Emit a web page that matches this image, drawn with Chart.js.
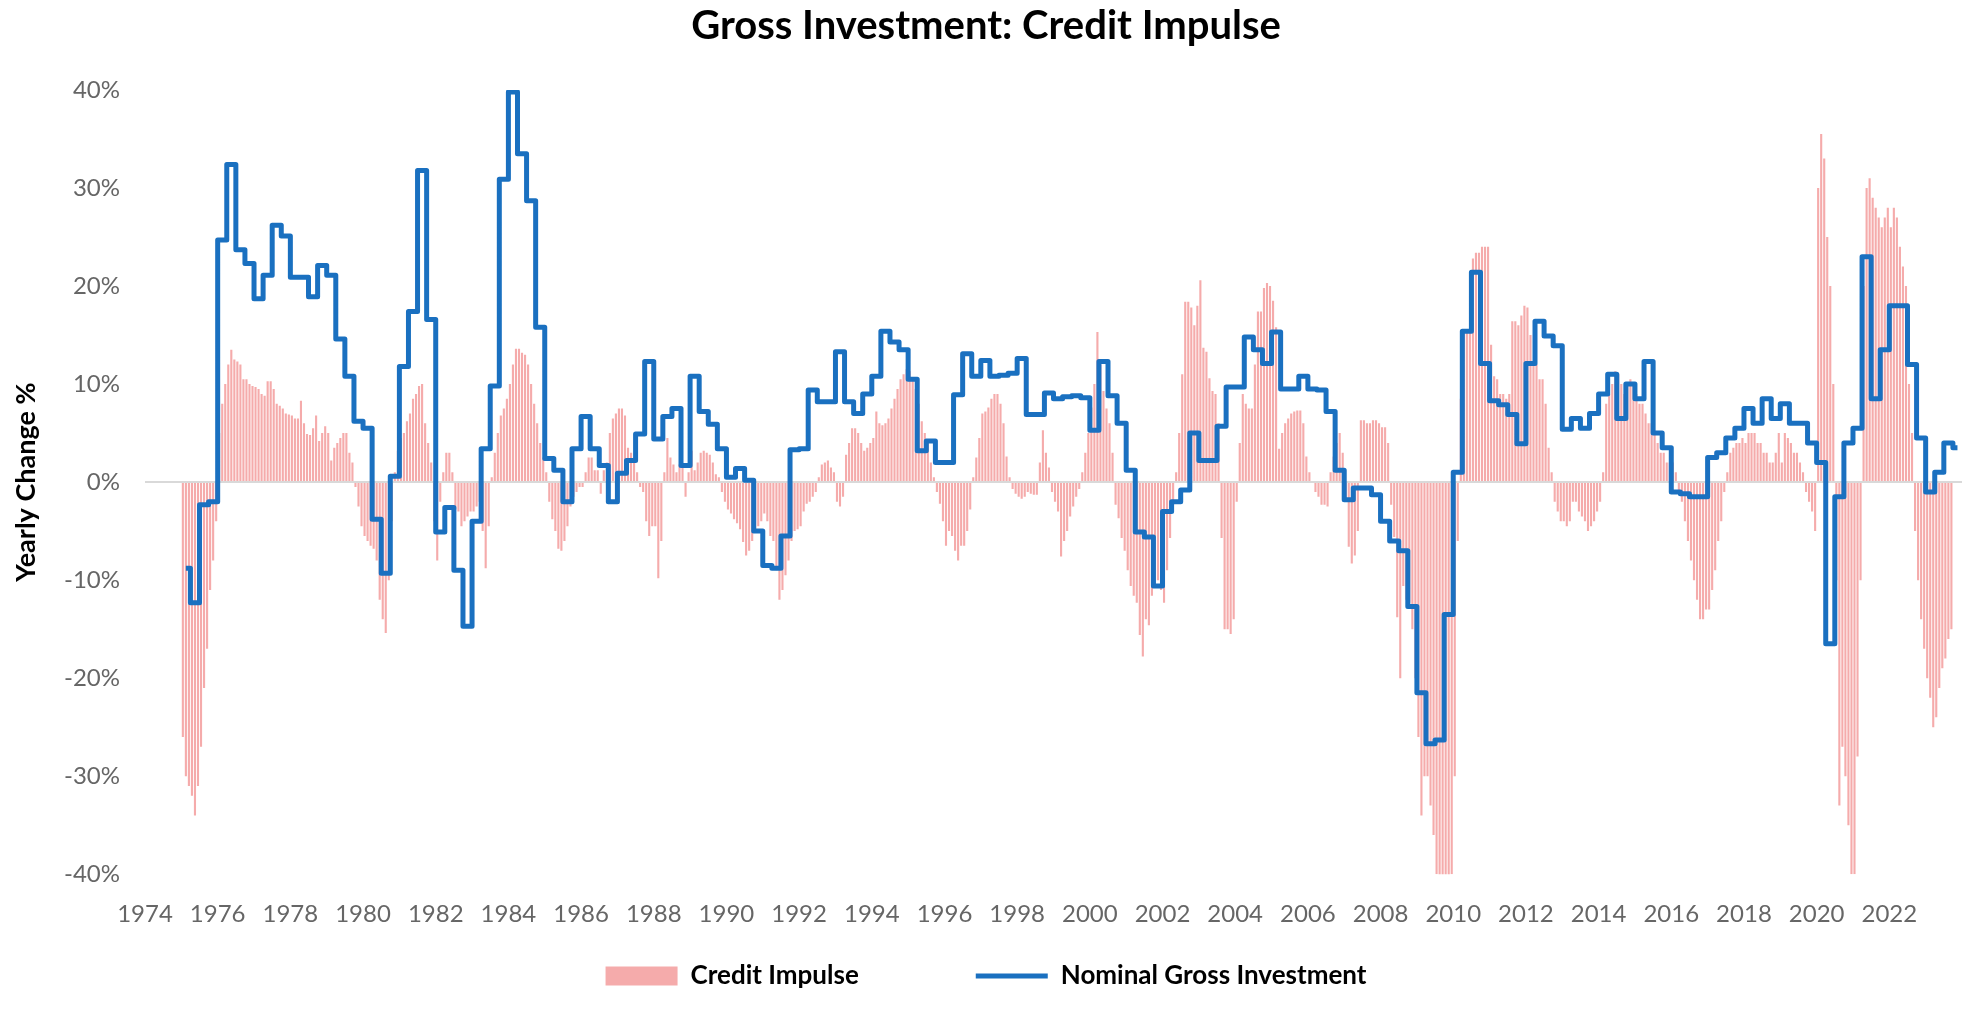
<!DOCTYPE html>
<html lang="en">
<head>
  <meta charset="UTF-8" />
  <title>Gross Investment: Credit Impulse</title>
  <script src="https://cdn.jsdelivr.net/npm/chart.js"></script>
  <style>
    html, body { margin: 0; padding: 0; background: #fff; }
    #grafico { display: block; }
  </style>
</head>
<body>
  <canvas id="grafico" width="1975" height="1011"></canvas>

  <script>
    // Credit impulse, yearly change %, one value per month from Jan 1975
    const creditImpulse = [
      -26, -30, -31, -32, -34, -31, -27, -21, -17, -11, -8, -4,          // 1975
      5, 8, 10, 12, 13.5, 12.5, 12.3, 12, 10.5, 10.5, 10, 9.8,            // 1976
      9.7, 9.5, 9, 8.8, 10.3, 10.3, 9.5, 8, 7.8, 7.5, 7, 6.9,             // 1977
      6.8, 6.5, 6.5, 8.3, 6, 4.9, 4.8, 5.5, 6.8, 4.2, 5, 5.7,             // 1978
      5, 2.2, 3.5, 4, 4.5, 5, 5, 3, 2, -0.5, -2.5, -4.5,                  // 1979
      -5.5, -6, -6.5, -6.8, -8, -12, -14, -15.4, -10, -4, 1, 3.2,         // 1980
      4.5, 5, 6.2, 7, 8.5, 9, 9.8, 10, 6, 4, 2, -4,                       // 1981
      -8, -2, 1, 3, 3, 1, -2.8, -3, -4.5, -4, -3.5, -3,                   // 1982
      -3, -2.5, -2, -5, -8.8, -4.5, 0.5, 3, 5, 6.8, 7.5, 8.5,             // 1983
      10, 12, 13.6, 13.6, 13.2, 13, 12, 10, 8, 6, 4, 2.5,                 // 1984
      1, -2, -3.8, -5, -6.8, -7, -6, -4.5, -2.5, -1.5, -1, -0.5,          // 1985
      -0.5, 1, 2.5, 2.5, 1.2, 1.2, -1.2, 1.2, 2, 5, 6.5, 7,               // 1986
      7.5, 7.5, 6.8, 3.5, 3, 2.5, 1, -0.5, -1, -4, -5.5, -4.5,            // 1987
      -4.5, -9.8, -6, 1, 4.5, 2.5, 1.8, 1, 1.8, 1.8, -1.5, 1,             // 1988
      3.2, 1.2, 2, 3, 3.2, 3, 2.8, 2, 0.8, 0.5, -1, -2,                   // 1989
      -2.8, -3.2, -3.8, -4.2, -4.8, -6.1, -7.5, -7, -6, -5, -4.5, -4,     // 1990
      -3.2, -4, -5.5, -6, -9, -12, -11, -9.5, -8, -6, -5, -4.8,           // 1991
      -4.5, -3, -2.2, -2, -1.5, -1, 0.5, 1.8, 2, 2.2, 1.5, 1,             // 1992
      -2, -2.5, -1.5, 2.8, 4, 5.5, 5.5, 5, 4, 3.2, 3.5, 4,                // 1993
      4.5, 7.2, 6, 5.8, 6, 6.5, 7.5, 8.5, 9.5, 10.5, 11, 11.5,            // 1994
      11.3, 10.5, 9.5, 8, 6.2, 5, 4, 2, 0.5, -1, -2.2, -4,                // 1995
      -6.5, -5, -5.5, -7, -8, -6.5, -6.5, -5, -2.8, 0.5, 2.5, 4.5,        // 1996
      7, 7.2, 7.6, 8.5, 9, 9, 8, 6, 2.6, 0.5, -0.7, -1.2,                 // 1997
      -1.5, -1.7, -1.5, -1, -1.2, -1.3, -1.3, 2, 5.3, 3, 1.5, -1,         // 1998
      -2, -3, -7.6, -6, -5, -3.5, -2.5, -1.5, -0.7, 1, 3, 5,              // 1999
      7.6, 10, 15.3, 12, 9.3, 7.5, 6, 3, -2.3, -3.7, -5.7, -7,            // 2000
      -9, -10.6, -11.6, -12.3, -15.6, -17.8, -14, -14.6, -11.6, -10.5, -10, -11, // 2001
      -12.3, -9, -5.7, -2.3, 1, 5, 11, 18.4, 18.4, 17.8, 16, 18,          // 2002
      20.6, 13.7, 13.3, 10.6, 9.3, 9, 6, -5.7, -15, -15, -15.5, -14,      // 2003
      -2, 4, 9, 8, 7.5, 7.5, 12, 17.4, 17.4, 19.8, 20.3, 20,              // 2004
      18.5, 15.8, 3.4, 5, 6, 6.5, 7, 7.2, 7.3, 7.3, 6, 2.6,               // 2005
      1, 0, -1, -1.5, -2.3, -2.3, -2.5, 1, 2.6, 4, 5, 3,                  // 2006
      -2, -6.6, -8.3, -7.5, -5, 6.3, 6.3, 6, 6, 6.3, 6.3, 6,              // 2007
      5.6, 5.6, 4, -2.3, -5.6, -13.8, -20, -10.6, -12, -12.3, -15, -20,   // 2008
      -26, -34, -30, -30, -33, -36, -40, -41, -41, -41, -41, -40,         // 2009
      -30, -6, 8.5, 15.4, 15.4, 15.4, 22.8, 23.4, 23.4, 24, 24, 24,       // 2010
      14, 10.8, 10.5, 9, 9, 8.5, 9, 16.4, 16.4, 16, 17, 18,               // 2011
      17.8, 15, 12, 12, 10.5, 10.5, 8, 3.5, 1, -2, -3, -4,                // 2012
      -4, -4.5, -4, -2, -2, -3, -3.5, -4, -5, -4.5, -4, -3,               // 2013
      -2, 1, 8, 9, 10, 11.3, 11, 10, 9, 10, 10.5, 10,                     // 2014
      9, 8, 8, 7, 6, 6, 5, 4, 3, 3, 2, 2,                                 // 2015
      2, 1, -1, -2, -4, -6, -8, -10, -12, -14, -14, -13,                  // 2016
      -13, -11, -9, -6, -4, -1, 1, 3, 3.5, 4, 4, 4.5,                     // 2017
      4, 5, 5, 5, 4, 4, 3, 3, 2, 2, 3, 5,                                 // 2018
      2, 5, 4.5, 4, 3, 3, 2, 1, -1, -2, -3, -5,                           // 2019
      30, 35.5, 33, 25, 20, 10, -10, -33, -27, -30, -35, -40,             // 2020
      -40, -28, -10, 20, 30, 31, 29, 28, 27, 26, 27, 28,                  // 2021
      26, 28, 27, 24, 22, 20, 10, 5, -5, -10, -14, -17,                   // 2022
      -20, -22, -25, -24, -21, -19, -18, -16, -15                         // 2023
    ];

    // Nominal gross investment, yearly change %, one value per quarter from 1975 Q1
    const grossInvestment = [
      -8.8, -12.3, -2.3, -2.0,     // 1975
      24.7, 32.4, 23.7, 22.3,      // 1976
      18.7, 21.1, 26.2, 25.1,      // 1977
      20.9, 20.9, 18.9, 22.1,      // 1978
      21.1, 14.6, 10.8, 6.2,       // 1979
      5.5, -3.8, -9.3, 0.6,        // 1980
      11.8, 17.4, 31.8, 16.6,      // 1981
      -5.1, -2.6, -9.0, -14.7,     // 1982
      -4.0, 3.4, 9.8, 30.9,        // 1983
      39.8, 33.5, 28.7, 15.8,      // 1984
      2.4, 1.2, -2.0, 3.4,         // 1985
      6.7, 3.4, 1.7, -2.0,         // 1986
      0.9, 2.2, 4.9, 12.3,         // 1987
      4.4, 6.7, 7.5, 1.7,          // 1988
      10.8, 7.2, 5.9, 3.4,         // 1989
      0.5, 1.4, 0.2, -5.0,         // 1990
      -8.5, -8.8, -5.5, 3.3,       // 1991
      3.4, 9.4, 8.2, 8.2,          // 1992
      13.3, 8.2, 7.0, 9.0,         // 1993
      10.8, 15.4, 14.3, 13.5,      // 1994
      10.5, 3.2, 4.2, 2.0,         // 1995
      2.0, 8.9, 13.1, 10.8,        // 1996
      12.4, 10.8, 10.9, 11.1,      // 1997
      12.6, 6.9, 6.9, 9.1,         // 1998
      8.5, 8.7, 8.8, 8.6,          // 1999
      5.3, 12.3, 8.8, 6.0,         // 2000
      1.2, -5.1, -5.6, -10.6,      // 2001
      -3.0, -2.0, -0.8, 5.0,       // 2002
      2.2, 2.2, 5.7, 9.7,          // 2003
      9.7, 14.8, 13.5, 12.1,       // 2004
      15.3, 9.5, 9.5, 10.8,        // 2005
      9.5, 9.4, 7.2, 1.2,          // 2006
      -1.8, -0.6, -0.6, -1.3,      // 2007
      -4.0, -6.0, -7.0, -12.7,     // 2008
      -21.5, -26.7, -26.3, -13.5,  // 2009
      1.0, 15.4, 21.4, 12.1,       // 2010
      8.3, 7.9, 6.9, 3.9,          // 2011
      12.1, 16.4, 14.9, 13.9,      // 2012
      5.4, 6.5, 5.5, 7.0,          // 2013
      9.0, 11.0, 6.5, 10.0,        // 2014
      8.5, 12.3, 5.0, 3.5,         // 2015
      -1.0, -1.2, -1.5, -1.5,      // 2016
      2.5, 3.0, 4.5, 5.5,          // 2017
      7.5, 6.0, 8.5, 6.5,          // 2018
      8.0, 6.0, 6.0, 4.0,          // 2019
      2.0, -16.5, -1.5, 4.0,       // 2020
      5.5, 23.0, 8.5, 13.5,        // 2021
      18.0, 18.0, 12.0, 4.5,       // 2022
      -1.0, 1.0, 4.0, 3.5          // 2023
    ];

    const firstYear = 1975;
    const yearLabels = [1974, 1976, 1978, 1980, 1982, 1984, 1986, 1988, 1990, 1992, 1994, 1996,
                        1998, 2000, 2002, 2004, 2006, 2008, 2010, 2012, 2014, 2016, 2018, 2020, 2022];
    const percentTicks = [-40, -30, -20, -10, 0, 10, 20, 30, 40];
    const seriesNames = ['Credit Impulse', 'Nominal Gross Investment'];

    const impulsePoints = creditImpulse.map((v, i) => ({ x: firstYear + (i + 0.5) / 12, y: v }));
    const investmentPoints = grossInvestment.map((v, i) => ({ x: firstYear + (i + 0.5) / 4, y: v }));

    Chart.defaults.font.family = 'Lato, "Open Sans", sans-serif';

    new Chart(document.getElementById('grafico'), {
      type: 'bar',
      data: {
        datasets: [
          {
            type: 'bar',
            label: seriesNames[0],
            data: impulsePoints,
            backgroundColor: '#F5ABAB',
            borderWidth: 0,
            barPercentage: 0.7,
            categoryPercentage: 1,
            pointStyle: 'rect',
            order: 2
          },
          {
            type: 'line',
            label: seriesNames[1],
            data: investmentPoints,
            borderColor: '#1A70C0',
            backgroundColor: '#1A70C0',
            borderWidth: 5,
            pointRadius: 0,
            stepped: 'middle',
            borderJoinStyle: 'round',
            pointStyle: 'line',
            order: 1
          }
        ]
      },
      options: {
        responsive: false,
        animation: false,
        devicePixelRatio: 1,
        layout: { padding: { left: 10, right: 13, top: 0, bottom: 12 } },
        plugins: {
          title: {
            display: true,
            text: 'Gross Investment: Credit Impulse',
            color: '#000',
            font: { size: 40, weight: 'bold' },
            padding: { top: 2, bottom: 40 }
          },
          legend: {
            position: 'bottom',
            labels: {
              usePointStyle: true,
              pointStyleWidth: 72,
              boxHeight: 19,
              color: '#000',
              font: { size: 26, weight: 'bold' },
              padding: 16,
              sort: (a, b) => a.datasetIndex - b.datasetIndex,
              // an empty, invisible entry keeps the wide gap between the two series
              generateLabels: chart => {
                const items = Chart.defaults.plugins.legend.labels.generateLabels(chart);
                items.push({
                  text: '',
                  datasetIndex: 0.5,
                  fillStyle: 'rgba(0,0,0,0)',
                  strokeStyle: 'rgba(0,0,0,0)',
                  lineWidth: 0,
                  pointStyle: 'rect',
                  hidden: false
                });
                return items;
              }
            }
          },
          tooltip: { enabled: false }
        },
        scales: {
          x: {
            type: 'linear',
            min: 1974,
            max: 2024,
            offset: false,
            grid: { display: false, offset: false },
            border: { display: false },
            afterBuildTicks: s => { s.ticks = yearLabels.map(v => ({ value: v })); },
            ticks: {
              color: '#666',
              font: { size: 24 },
              padding: 18,
              maxRotation: 0,
              autoSkip: false,
              callback: v => String(v)
            }
          },
          y: {
            min: -40,
            max: 40,
            afterBuildTicks: s => { s.ticks = percentTicks.map(v => ({ value: v })); },
            afterFit: s => { s.width = 135; },
            grid: {
              color: c => (c.tick && c.tick.value === 0 ? '#D9D9D9' : 'rgba(0,0,0,0)'),
              lineWidth: 2,
              drawTicks: false
            },
            border: { display: false },
            ticks: {
              color: '#666',
              font: { size: 24 },
              padding: 25,
              callback: v => v + '%'
            },
            title: {
              display: true,
              text: 'Yearly Change %',
              color: '#000',
              font: { size: 27, weight: 'bold' },
              padding: { top: 0, bottom: 0 }
            }
          }
        }
      }
    });
  </script>
</body>
</html>
